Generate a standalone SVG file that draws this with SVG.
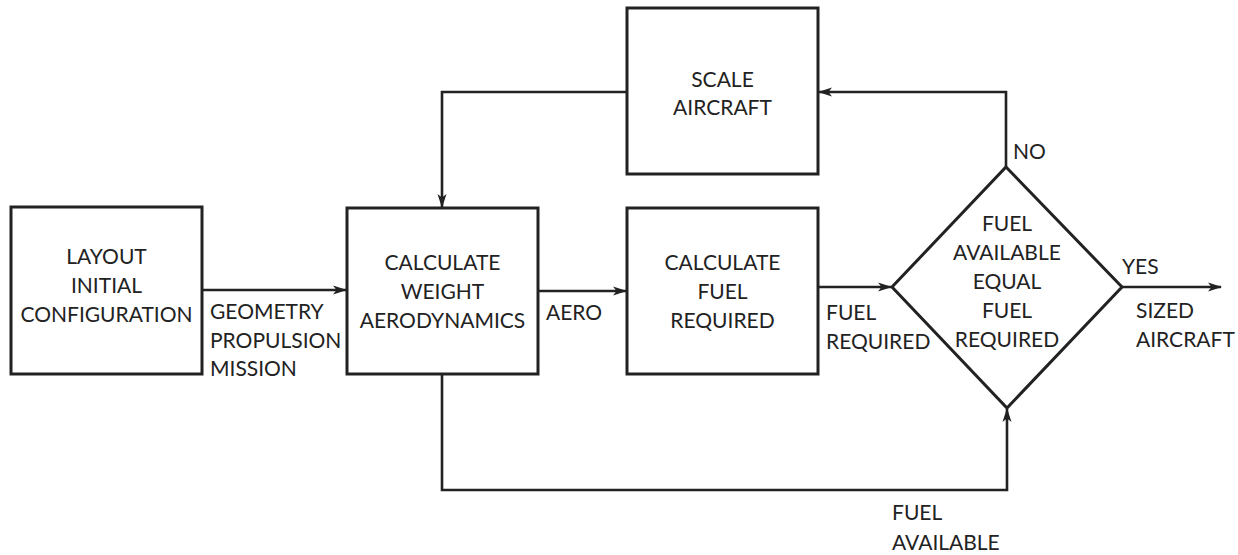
<svg xmlns="http://www.w3.org/2000/svg" width="1238" height="555" viewBox="0 0 1238 555">
<style>
.box{fill:#fff;stroke:#222;stroke-width:3}
.ln{fill:none;stroke:#222;stroke-width:2.6}
text{font-family:Lato,"Liberation Sans",sans-serif;font-size:21px;fill:#222}
.c{text-anchor:middle}
</style>
<defs>
<marker id="ah" markerWidth="14" markerHeight="10" refX="13" refY="5" orient="auto" markerUnits="userSpaceOnUse">
<path d="M0,0.5 L14,5 L0,9.5 L3.5,5 Z" fill="#222"/>
</marker>
</defs>
<rect width="1238" height="555" fill="#fff"/>
<g id="connectors">
<path class="ln" d="M202,290 H346" marker-end="url(#ah)"/>
<path class="ln" d="M538,291 H626" marker-end="url(#ah)"/>
<path class="ln" d="M818,287 H891" marker-end="url(#ah)"/>
<path class="ln" d="M1122,287 H1221" marker-end="url(#ah)"/>
<path class="ln" d="M1006,167 V92 H819" marker-end="url(#ah)"/>
<path class="ln" d="M627,92 H442 V207" marker-end="url(#ah)"/>
<path class="ln" d="M442,374 V490 H1007 V409" marker-end="url(#ah)"/>
</g>
<g id="layout">
<rect class="box" x="11" y="207" width="191" height="167"/>
<text class="c" x="106.5" y="264">LAYOUT</text>
<text class="c" x="106.5" y="293">INITIAL</text>
<text class="c" x="106.5" y="322">CONFIGURATION</text>
</g>
<g id="calc-weight">
<rect class="box" x="347" y="208" width="191" height="166"/>
<text class="c" x="442.5" y="270">CALCULATE</text>
<text class="c" x="442.5" y="299">WEIGHT</text>
<text class="c" x="442.5" y="328">AERODYNAMICS</text>
</g>
<g id="calc-fuel">
<rect class="box" x="627" y="208" width="191" height="166"/>
<text class="c" x="722.5" y="270">CALCULATE</text>
<text class="c" x="722.5" y="299">FUEL</text>
<text class="c" x="722.5" y="328">REQUIRED</text>
</g>
<g id="scale">
<rect class="box" x="627" y="8" width="191" height="166"/>
<text class="c" x="722.5" y="87">SCALE</text>
<text class="c" x="722.5" y="115">AIRCRAFT</text>
</g>
<g id="decision">
<path class="box" d="M1006,167 L1122,287 L1007,408 L892,287 Z"/>
<text class="c" x="1007" y="231">FUEL</text>
<text class="c" x="1007" y="260">AVAILABLE</text>
<text class="c" x="1007" y="289">EQUAL</text>
<text class="c" x="1007" y="318">FUEL</text>
<text class="c" x="1007" y="347">REQUIRED</text>
</g>
<g id="labels">
<text x="210" y="319">GEOMETRY</text>
<text x="210" y="348">PROPULSION</text>
<text x="210" y="376">MISSION</text>
<text x="546" y="320">AERO</text>
<text x="826" y="320">FUEL</text>
<text x="826" y="349">REQUIRED</text>
<text x="1013" y="159">NO</text>
<text x="1122" y="274">YES</text>
<text x="1136" y="318">SIZED</text>
<text x="1136" y="347">AIRCRAFT</text>
<text x="892" y="520">FUEL</text>
<text x="892" y="550">AVAILABLE</text>
</g>
</svg>
